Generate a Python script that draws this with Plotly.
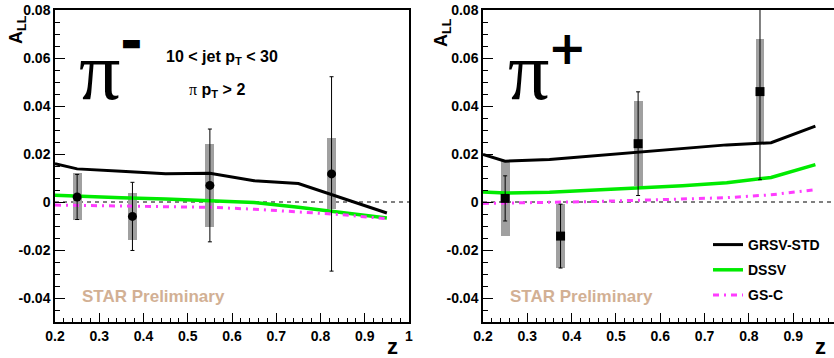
import plotly.graph_objects as go

# ---------------- data ----------------
z_pts = [0.25, 0.375, 0.55, 0.825]

pim_all = [0.0021, -0.0060, 0.0069, 0.0117]
pim_stat = [0.0094, 0.0142, 0.0235, 0.0405]
pim_sys = [0.0098, 0.0098, 0.0173, 0.0148]

pip_all = [0.0015, -0.0142, 0.0243, 0.0460]
pip_stat = [0.0094, 0.0133, 0.0216, 0.0367]
pip_sys = [0.0155, 0.0133, 0.0177, 0.0220]

z_th = [0.2, 0.25, 0.35, 0.45, 0.55, 0.65, 0.75, 0.85, 0.95]
pim_grsv = [0.0160, 0.0138, 0.0128, 0.0118, 0.0120, 0.0089, 0.0077, 0.0016, -0.0046]
pim_dssv = [0.0028, 0.0024, 0.0018, 0.0012, 0.0006, -0.0002, -0.0022, -0.0044, -0.0067]
pim_gsc = [-0.0013, -0.0014, -0.0016, -0.0019, -0.0022, -0.0030, -0.0040, -0.0053, -0.0070]

pip_grsv = [0.0198, 0.0170, 0.0177, 0.0192, 0.0208, 0.0224, 0.0238, 0.0247, 0.0316]
pip_dssv = [0.0042, 0.0037, 0.0041, 0.0050, 0.0058, 0.0068, 0.0080, 0.0102, 0.0156]
pip_gsc = [-0.0006, -0.0005, -0.0002, 0.0002, 0.0007, 0.0012, 0.0018, 0.0030, 0.0051]

x_ticks = [0.2, 0.3, 0.4, 0.5, 0.6, 0.7, 0.8, 0.9, 1.0]
x_ticktext = ["0.2", "0.3", "0.4", "0.5", "0.6", "0.7", "0.8", "0.9", "1"]
y_ticks = [-0.04, -0.02, 0, 0.02, 0.04, 0.06, 0.08]
y_ticktext = ["-0.04", "-0.02", "0", "0.02", "0.04", "0.06", "0.08"]

model_names = ["GRSV-STD", "DSSV", "GS-C"]

# ---------------- figure ----------------
W, H = 834, 358
fig = go.Figure()

SANS = "Liberation Sans"
SERIF = "Liberation Serif"
GREY = "rgb(160,160,160)"
GREEN = "rgb(0,235,0)"
MAGENTA = "rgb(255,60,255)"
TAN = "rgb(210,176,148)"


def add_panel(xa, ya, grsv, dssv, gsc, vals, stat, sys, symbol, showlegend):
    styles = [dict(color="black", width=3),
              dict(color=GREEN, width=3.5),
              dict(color=MAGENTA, width=3, dash="6px,5px,2px,5px")]
    for i, (curve, st) in enumerate(zip([grsv, dssv, gsc], styles)):
        fig.add_trace(go.Scatter(
            x=z_th, y=curve, mode="lines", line=st, name=model_names[i],
            xaxis=xa, yaxis=ya, showlegend=showlegend, legendgroup=f"g{i}"))
    fig.add_trace(go.Bar(
        x=z_pts, y=[2 * s for s in sys], base=[v - s for v, s in zip(vals, sys)],
        width=0.02, marker=dict(color=GREY, line=dict(width=0)),
        xaxis=xa, yaxis=ya, showlegend=False, hoverinfo="skip"))
    fig.add_trace(go.Scatter(
        x=z_pts, y=vals, mode="markers",
        marker=dict(symbol=symbol, size=9, color="black"),
        error_y=dict(type="data", array=stat, color="black", thickness=1, width=2),
        xaxis=xa, yaxis=ya, showlegend=False, cliponaxis=True))


add_panel("x", "y", pim_grsv, pim_dssv, pim_gsc, pim_all, pim_stat, pim_sys, "circle", False)
add_panel("x2", "y2", pip_grsv, pip_dssv, pip_gsc, pip_all, pip_stat, pip_sys, "square", True)

tickfont = dict(family=SANS, size=14, color="black", weight="bold")


def xaxis_cfg(domain, rng, anchor):
    return dict(domain=domain, range=rng, anchor=anchor, tickvals=x_ticks, ticktext=x_ticktext,
                ticks="inside", ticklen=9, tickwidth=1, tickcolor="black", automargin=False,
                showline=True, linecolor="black", linewidth=1.5, mirror=True,
                showgrid=False, zeroline=False, tickfont=tickfont,
                minor=dict(dtick=0.02, tick0=0.2, ticks="inside", ticklen=4,
                           tickcolor="black", tickwidth=1, showgrid=False))


def yaxis_cfg(anchor):
    return dict(domain=[0, 1], range=[-0.05, 0.08], anchor=anchor, tickvals=y_ticks,
                ticktext=y_ticktext, ticks="inside", ticklen=10, tickwidth=1, automargin=False,
                tickcolor="black", showline=True, linecolor="black", linewidth=1.5,
                mirror=True, showgrid=False, zeroline=False, tickfont=tickfont,
                minor=dict(dtick=0.005, tick0=0, ticks="inside", ticklen=5,
                           tickcolor="black", tickwidth=1, showgrid=False))


xl0, xl1 = 55 / W, 409 / W
xr0 = 483 / W

fig.update_layout(
    width=W, height=H,
    margin=dict(l=0, r=0, t=10, b=36, autoexpand=False),
    paper_bgcolor="white", plot_bgcolor="white",
    barmode="overlay", bargap=0,
    xaxis=xaxis_cfg([xl0, xl1], [0.2, 1.0], "y"),
    yaxis=yaxis_cfg("x"),
    xaxis2=xaxis_cfg([xr0, 1.0], [0.2, 0.992], "y2"),
    yaxis2=yaxis_cfg("x2"),
    showlegend=True,
    legend=dict(x=708 / W, y=(322 - 229) / 312, xanchor="left", yanchor="top",
                bgcolor="rgba(0,0,0,0)", tracegroupgap=4,
                font=dict(family=SANS, size=14, color="black", weight="bold")),
)

# dashed zero lines
for xr, yr in [("x domain", "y"), ("x2 domain", "y2")]:
    fig.add_shape(type="line", xref=xr, yref=yr, x0=0, x1=1, y0=0, y1=0,
                  line=dict(color="black", width=1, dash="4px,4px"), layer="below")


def py(ypx):
    return (322 - ypx) / 312


ann = []
bold = dict(family=SANS, color="black", weight="bold")
# big pi symbols
ann.append(dict(text="π", x=99 / W, y=py(72), font=dict(family=SERIF, size=82, color="black")))
ann.append(dict(text="▬", x=131 / W, y=py(43), font=dict(family="DejaVu Sans", size=22, color="black")))
ann.append(dict(text="π", x=528 / W, y=py(72), font=dict(family=SERIF, size=82, color="black")))
ann.append(dict(text="+", x=567 / W, y=py(48), font=dict(family="DejaVu Sans", size=46, color="black", weight="bold")))
# cuts
ann.append(dict(text="10 &lt; jet p<sub>T</sub> &lt; 30", x=222 / W, y=py(57), font=dict(bold, size=16)))
ann.append(dict(text="<span style='font-family:Liberation Serif;font-weight:normal'>π</span> p<sub>T</sub> &gt; 2",
                x=217 / W, y=py(90), font=dict(bold, size=16)))
# STAR Preliminary
for xc in [153.5, 581.5]:
    ann.append(dict(text="STAR Preliminary", x=xc / W, y=py(296),
                    font=dict(family=SANS, size=17, color=TAN, weight="bold")))
# axis titles
for xc, yc in [(17, 30), (443, 33)]:
    ann.append(dict(text="A<sub>LL</sub>", x=xc / W, y=py(yc), textangle=-90,
                    font=dict(bold, size=18)))
for xc in [392, 820]:
    ann.append(dict(text="z", x=xc / W, y=py(346), font=dict(bold, size=22)))

for a in ann:
    a.update(xref="paper", yref="paper", showarrow=False, xanchor="center", yanchor="middle")
fig.update_layout(annotations=ann)

fig.write_html("out.html", config={"displayModeBar": False},
               post_script="document.body.style.margin='0';")
